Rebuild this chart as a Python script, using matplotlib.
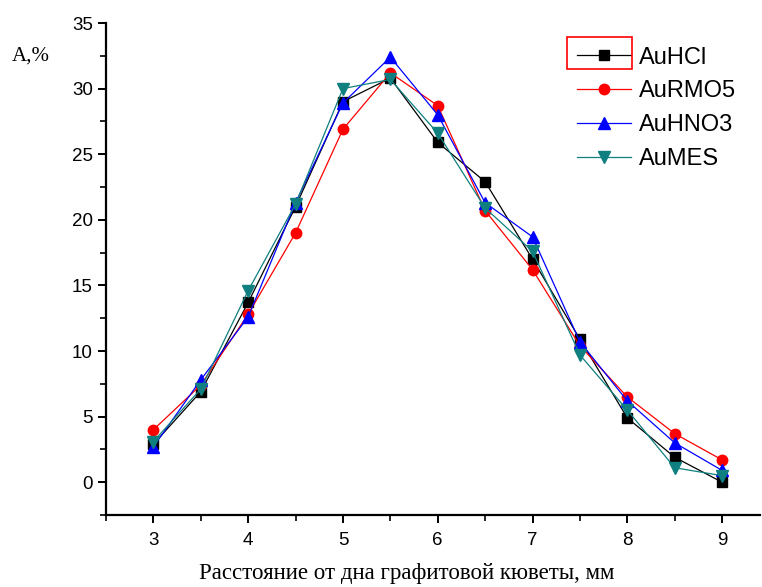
import matplotlib
matplotlib.use("Agg")
import matplotlib.pyplot as plt
from matplotlib.patches import Rectangle
from matplotlib.ticker import MultipleLocator

x = [3, 3.5, 4, 4.5, 5, 5.5, 6, 6.5, 7, 7.5, 8, 8.5, 9]
au_hcl = [2.9, 6.9, 13.7, 21.0, 29.0, 30.8, 25.9, 22.9, 17.0, 10.9, 4.9, 1.9, 0.0]
au_rmo5 = [4.0, 7.4, 12.8, 19.0, 26.9, 31.2, 28.7, 20.7, 16.2, 10.4, 6.5, 3.7, 1.7]
au_hno3 = [2.7, 7.8, 12.6, 21.3, 28.9, 32.4, 28.0, 21.3, 18.7, 10.7, 6.2, 3.0, 0.9]
au_mes = [3.1, 7.1, 14.6, 21.2, 30.0, 30.7, 26.6, 20.9, 17.6, 9.7, 5.5, 1.1, 0.5]

series = [
    ("AuHCl", au_hcl, "black", "s", 7),
    ("AuRMO5", au_rmo5, "red", "o", 7.5),
    ("AuHNO3", au_hno3, "blue", "^", 8.5),
    ("AuMES", au_mes, "#0f7f7f", "v", 8.5),
]

fig = plt.figure(figsize=(7.62, 5.87), dpi=100)
ax = fig.add_axes([106/762, 1-515/587, (760-106)/762, (515-23)/587])

for name, y, c, m, ms in series:
    ax.plot(x, y, color=c, marker=m, markersize=ms, linewidth=0.9, label=name)

ax.set_xlim(2.5, 9.4)
ax.set_ylim(-2.5, 35)
ax.xaxis.set_major_locator(MultipleLocator(1))
ax.xaxis.set_minor_locator(MultipleLocator(0.5))
ax.yaxis.set_major_locator(MultipleLocator(5))
ax.yaxis.set_minor_locator(MultipleLocator(2.5))
for s in ["top", "right"]:
    ax.spines[s].set_visible(False)
for s in ["left", "bottom"]:
    ax.spines[s].set_linewidth(1.6)
ax.tick_params(which="major", direction="out", length=6, width=1.4, labelsize=13.5)
ax.tick_params(which="minor", direction="out", length=4, width=1.2)
ax.tick_params(axis="x", pad=6)
for lab in ax.get_xticklabels() + ax.get_yticklabels():
    lab.set_fontfamily("Liberation Sans")

fig.text(407/762, 1-574/587, "Расстояние от дна графитовой кюветы, мм", fontfamily="Liberation Serif",
         fontsize=16.5, ha="center", va="center")
fig.text(12/762, 1-56/587, "A,%", fontfamily="Liberation Serif", fontsize=15, va="center")

leg = ax.legend(loc="upper left", bbox_to_anchor=(560/762, 1-30/587), bbox_transform=fig.transFigure,
                frameon=False, prop={"family": "Liberation Sans", "size": 17},
                handlelength=2.3, handletextpad=0.35, labelspacing=0.5, borderpad=0.2)
fig.patches.append(Rectangle((567/762, 1-69/587), 65/762, 32/587, transform=fig.transFigure,
                             fill=False, edgecolor="red", linewidth=1.2))

fig.savefig("out.png", dpi=100)
